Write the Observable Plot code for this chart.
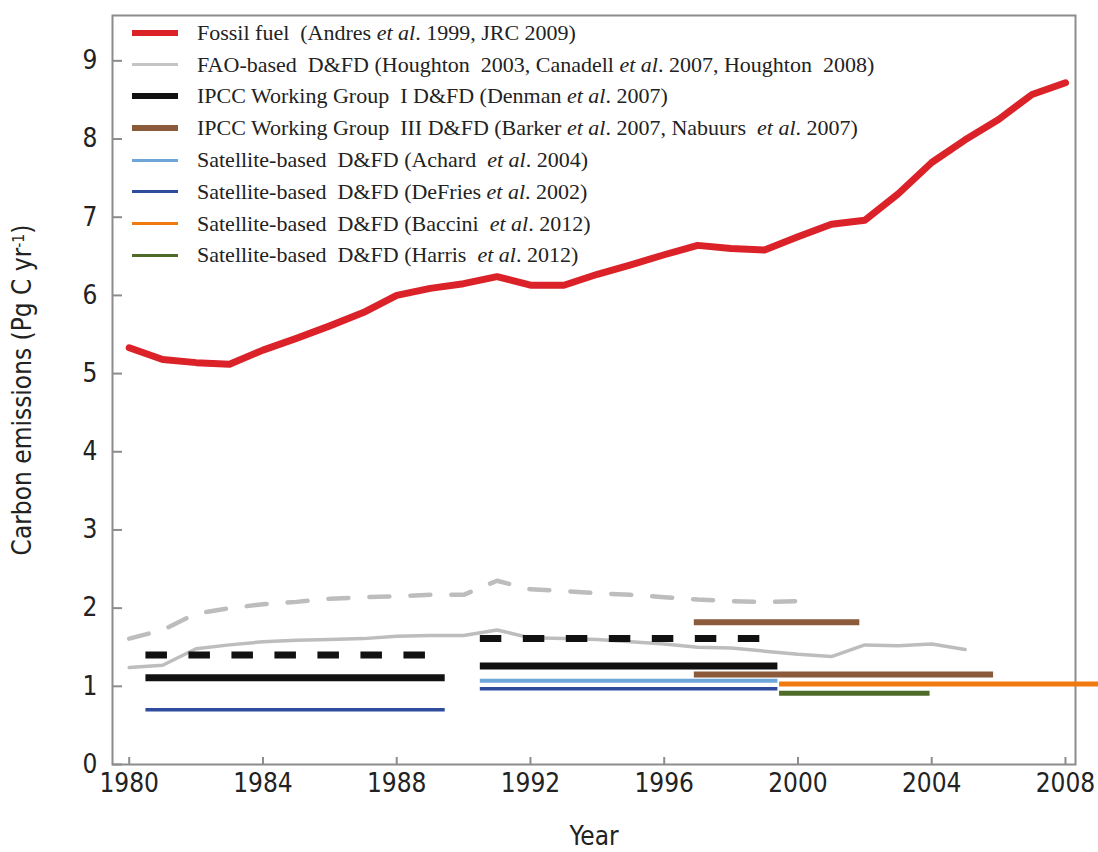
<!DOCTYPE html>
<html>
<head>
<meta charset="utf-8">
<script src="https://cdn.jsdelivr.net/npm/d3@7"></script>
<script src="https://cdn.jsdelivr.net/npm/@observablehq/plot@0.6"></script>
<style>
  html, body { margin: 0; padding: 0; background: #fff; overflow: hidden; }
  #wrap { position: relative; width: 1098px; height: 852px; }
  #legend { position: absolute; left: 132px; top: 17px; font-family: "Liberation Serif", "Times New Roman", serif; font-size: 22px; color: #222; }
  #legend .row { display: flex; align-items: center; height: 31.8px; white-space: pre; }
  #legend .sw { display: inline-block; width: 46px; margin-right: 19px; }
</style>
</head>
<body>
<div id="wrap"><div id="chart"></div><div id="legend"></div></div>
<script>
// ---- data ----
const years = [1980,1981,1982,1983,1984,1985,1986,1987,1988,1989,1990,1991,1992,1993,1994,1995,1996,1997,1998,1999,2000,2001,2002,2003,2004,2005,2006,2007,2008];
const fossilFuel = [5.33,5.18,5.14,5.12,5.30,5.45,5.61,5.78,6.00,6.09,6.15,6.24,6.13,6.13,6.27,6.39,6.52,6.64,6.60,6.58,6.75,6.91,6.96,7.30,7.70,7.99,8.25,8.57,8.72];

const faoYears = [1980,1981,1982,1983,1984,1985,1986,1987,1988,1989,1990,1991,1992,1993,1994,1995,1996,1997,1998,1999,2000,2001,2002,2003,2004,2005];
const faoSolid = [1.24,1.27,1.48,1.53,1.57,1.59,1.60,1.61,1.64,1.65,1.65,1.72,1.62,1.61,1.60,1.57,1.54,1.50,1.49,1.45,1.41,1.38,1.53,1.52,1.54,1.47];

const faoDashYears = [1980,1981,1982,1983,1984,1985,1986,1987,1988,1989,1990,1991,1992,1993,1994,1995,1996,1997,1998,1999,2000];
const faoDashed = [1.61,1.72,1.93,2.00,2.05,2.08,2.12,2.14,2.15,2.17,2.17,2.35,2.24,2.22,2.19,2.17,2.14,2.11,2.09,2.08,2.09];

// period estimates: [start year, end year, value]
const wg1Solid = [[1980.5,1989.45,1.11],[1990.5,1999.4,1.26]];
const wg1Dashed = [[1980.5,1989.45,1.40],[1990.5,1999.4,1.61]];
const wg3 = [[1996.9,2001.85,1.82],[1996.9,2005.85,1.15]];
const achard = [[1990.5,1999.4,1.07]];
const defries = [[1980.5,1989.45,0.70],[1990.5,1999.4,0.97]];
const baccini = [[1999.45,2009,1.03]];
const harris = [[1999.45,2003.95,0.91]];

const yTicks = [0,1,2,3,4,5,6,7,8,9];
const xTicks = [1980,1984,1988,1992,1996,2000,2004,2008];

const legendItems = [
  {color: "#dc2229", w: 6, html: "Fossil fuel  (Andres <i>et al</i>. 1999, JRC 2009)"},
  {color: "#c4c4c4", w: 3, html: "FAO-based  D&amp;FD (Houghton  2003, Canadell <i>et al</i>. 2007, Houghton  2008)"},
  {color: "#111111", w: 6, html: "IPCC Working Group  I D&amp;FD (Denman <i>et al</i>. 2007)"},
  {color: "#8a5a3b", w: 6, html: "IPCC Working Group  III D&amp;FD (Barker <i>et al</i>. 2007, Nabuurs  <i>et al</i>. 2007)"},
  {color: "#6fa6d9", w: 3, html: "Satellite-based  D&amp;FD (Achard  <i>et al</i>. 2004)"},
  {color: "#2f4c9c", w: 3, html: "Satellite-based  D&amp;FD (DeFries <i>et al</i>. 2002)"},
  {color: "#f07a10", w: 3, html: "Satellite-based  D&amp;FD (Baccini  <i>et al</i>. 2012)"},
  {color: "#4e6b2a", w: 3, html: "Satellite-based  D&amp;FD (Harris  <i>et al</i>. 2012)"}
];

const seg = a => a.map(([s, e, v]) => ({s, e, v}));
const ff = years.map((y, i) => ({year: y, v: fossilFuel[i]}));
const fs = faoYears.map((y, i) => ({year: y, v: faoSolid[i]}));
const fd = faoDashYears.map((y, i) => ({year: y, v: faoDashed[i]}));

const axisFont = "'Liberation Sans Narrow', 'Arial Narrow', 'DejaVu Sans Condensed', sans-serif";

const chart = Plot.plot({
  width: 1098,
  height: 852,
  marginLeft: 112,
  marginRight: 23,
  marginTop: 15,
  marginBottom: 88,
  style: {fontFamily: axisFont, fontSize: "26px", color: "#222", background: "white", overflow: "visible"},
  x: {domain: [1979.5, 2008.3]},
  y: {domain: [0, 9.58]},
  marks: [
    Plot.frame({stroke: "#8c8c8c", strokeWidth: 2}),
    Plot.axisY({ticks: yTicks, tickSize: -10, tickPadding: 25, stroke: "#8c8c8c", strokeWidth: 2, fontSize: 26,
      label: "Carbon emissions (Pg C yr-1)", labelAnchor: "center", labelArrow: "none", labelOffset: 100}),
    Plot.axisX({ticks: xTicks, tickSize: -7, tickPadding: 16, stroke: "#8c8c8c", strokeWidth: 2, fontSize: 26,
      tickFormat: d => String(d), label: "Year", labelAnchor: "center", labelArrow: "none", labelOffset: 80}),
    Plot.line(fd, {x: "year", y: "v", stroke: "#bdbdbd", strokeWidth: 4.5, strokeDasharray: "20,21"}),
    Plot.line(fs, {x: "year", y: "v", stroke: "#bdbdbd", strokeWidth: 3.5}),
    Plot.ruleY(seg(wg1Dashed), {y: "v", x1: "s", x2: "e", stroke: "#111", strokeWidth: 7, strokeDasharray: "21.5,21.5"}),
    Plot.ruleY(seg(wg1Solid), {y: "v", x1: "s", x2: "e", stroke: "#111", strokeWidth: 7}),
    Plot.ruleY(seg(wg3), {y: "v", x1: "s", x2: "e", stroke: "#8a5a3b", strokeWidth: 6}),
    Plot.ruleY(seg(achard), {y: "v", x1: "s", x2: "e", stroke: "#6fa6d9", strokeWidth: 4}),
    Plot.ruleY(seg(defries), {y: "v", x1: "s", x2: "e", stroke: "#2f4c9c", strokeWidth: 3.5}),
    Plot.ruleY(seg(baccini), {y: "v", x1: "s", x2: "e", stroke: "#f07a10", strokeWidth: 5, ariaLabel: "shadowed"}),
    Plot.ruleY(seg(harris), {y: "v", x1: "s", x2: "e", stroke: "#4e6b2a", strokeWidth: 5, ariaLabel: "shadowed"}),
    Plot.line(ff, {x: "year", y: "v", stroke: "#dc2229", strokeWidth: 7, strokeLinejoin: "round"})
  ]
});
document.getElementById("chart").appendChild(chart);

// superscript in y label
const yl = d3.select(chart).select('g[aria-label="y-axis label"] text');
if (!yl.empty()) {
  yl.text(null);
  yl.append("tspan").text("Carbon emissions (Pg C yr");
  yl.append("tspan").attr("dy", "-0.45em").attr("font-size", "0.6em").text("-1");
  yl.append("tspan").attr("dy", "0.27em").text(")");
}
d3.select(chart).selectAll('g[aria-label="shadowed"]').style("filter", "drop-shadow(0px 4px 2px rgba(0,0,0,0.4))");

// legend
const lg = d3.select("#legend");
legendItems.forEach(d => {
  const r = lg.append("div").attr("class", "row");
  r.append("span").attr("class", "sw").style("height", d.w + "px").style("background", d.color);
  r.append("span").html(d.html);
});
</script>
</body>
</html>
